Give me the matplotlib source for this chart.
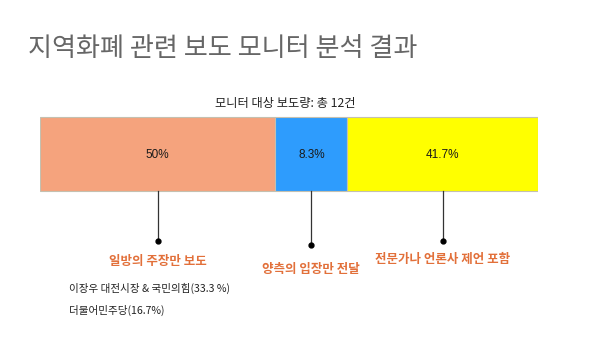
import matplotlib
matplotlib.use('Agg')
import matplotlib.pyplot as plt
import numpy as np

plt.rcParams['font.family'] = ['Noto Sans CJK KR', 'DejaVu Sans']

# 데이터
title = '지역화폐 관련 보도 모니터 분석 결과'
subtitle = '모니터 대상 보도량: 총 12건'
pct_labels = ['50%', '8.3%', '41.7%']
seg_width = [47.2, 14.5, 38.3]   # 그림에서 읽은 막대 폭
categories = ['일방의 주장만 보도', '양측의 입장만 전달', '전문가나 언론사 제언 포함']
sub_notes = ['이장우 대전시장 & 국민의힘(33.3 %)', '더불어민주당(16.7%)']

colors = ['#F5A37D', '#2E9CFD', '#FFFF00']
label_color = '#E2703A'

fig = plt.figure(figsize=(6, 3.38), dpi=100)
W, H = 600, 338
bar_l, bar_r = 40, 538.3
ax = fig.add_axes([bar_l / W, 0, (bar_r - bar_l) / W, 1])
ax.set_xlim(0, sum(seg_width))
ax.set_ylim(H, 0)
ax.axis('off')

lefts = np.concatenate([[0], np.cumsum(seg_width)[:-1]])
centers = lefts + np.array(seg_width) / 2
ax.barh(154, seg_width, left=lefts, height=73.7, color=colors,
        edgecolor='#C4C0B0', linewidth=0.8)

for c, t in zip(centers, pct_labels):
    ax.text(c, 155.5, t, ha='center', va='center', fontsize=8.5,
            family=['Liberation Sans', 'DejaVu Sans'], color='#1a1a1a')

# 지시선
dot_y = [240.7, 245, 241]
lab_y = [261.5, 269, 259]
for c, dy, ly, cat in zip(centers, dot_y, lab_y, categories):
    ax.plot([c, c], [191, dy], color='#333333', lw=0.9)
    ax.plot(c, dy, 'o', color='black', ms=3.5)
    ax.text(c, ly, cat, ha='center', va='center', fontsize=9,
            color=label_color, fontweight='bold')

fig.text(28 / W, 1 - 48.5 / H, title, ha='left', va='center',
         fontsize=18.8, color='#666666', fontweight='medium')
fig.text(285 / W, 1 - 103 / H, subtitle, ha='center', va='center',
         fontsize=8.8, color='#222222')
for i, note in enumerate(sub_notes):
    fig.text(69 / W, 1 - (288 + 22.3 * i) / H, note, ha='left', va='center',
             fontsize=7.6, color='#222222')

fig.savefig('out.png', dpi=100)
